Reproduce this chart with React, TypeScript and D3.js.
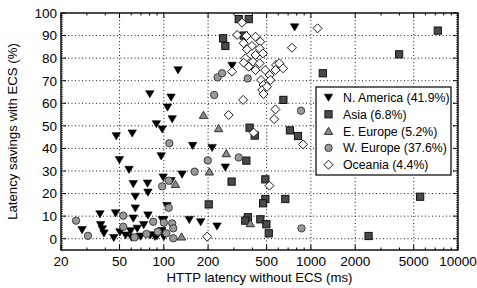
import React from "react";
import * as d3 from "d3";

type P = [number, number];

const northAmerica: P[] = [
  [125, 74.7], [80.3, 64.1], [112, 62.6], [106, 58.2], [114, 53], [89, 50.8], [97.5, 48.5],
  [47.5, 45.5], [61, 46.7], [157, 41.2], [213, 40.3], [49.9, 34.9], [96, 36.6], [58, 30.6],
  [133, 28.5], [99, 27.2], [112, 25.6], [62, 24.3], [77.5, 24.5], [64, 18.7], [78, 20.5],
  [64, 13.5], [36.8, 10.9], [47, 11.3], [78, 10.4], [62, 9], [105, 14.6], [149, 8.4], [178, 7.4],
  [230, 5.5], [27.8, 3.9], [37.2, 6.1], [38.2, 4.2], [39.2, 2.4], [45.7, 0.4], [50.3, 2.9],
  [59.5, 3.4], [60.3, 0.5], [69.5, 1], [73, 6.1], [87, 0.9], [90, 1.2], [97.5, 8.3], [100, 8.3],
  [81, 1.6], [291, 76.7], [775, 93.7], [262, 31.6], [100, 0.9], [97, 3.5], [55, 1.5], [66, 4.5],
];
const asia: P[] = [
  [323, 97.3], [378, 97.3], [253, 88.8], [262, 85.4], [350, 90], [1205, 73.3], [650, 61.5],
  [383, 49.2], [415, 45.7], [720, 48], [817, 45.5], [364, 34.6], [289, 25.3], [490, 26.3],
  [670, 17.6], [490, 17.6], [473, 15.7], [202, 15.2], [373, 9.5], [358, 8], [453, 8.6],
  [498, 6.4], [517, 2.4], [2465, 1.2], [5530, 18.6], [7290, 92.2], [3980, 81.7],
];
const eastEurope: P[] = [
  [186, 54.8], [236, 48.9], [266, 37.8], [204, 29.7], [120, 24.2], [132, 0.9], [387, 6.8],
];
const westEurope: P[] = [
  [25.3, 8], [30.5, 1.3], [53, 10.2], [53, 5.3], [63.3, 0.6], [76.3, 2.1], [84.7, 7.5],
  [91, 3.1], [100, 7.1], [104, 2.4], [114, 6.8], [116, 4.6], [116, 0.2], [108, 13.7],
  [97.5, 23.2], [108, 25.7], [162, 29.7], [199, 34.7], [109, 42.3], [220, 63.7], [232, 71.5],
  [249, 73.3], [372, 71], [323, 36], [863, 4.6], [857, 56.7],
];
const oceania: P[] = [
  [197, 0.9], [276, 54.8], [408, 47], [563, 53], [574, 57.3], [884, 41.8], [522, 23.5],
  [1110, 93.2], [743, 84.6], [340, 95.7], [315, 90.3], [364, 89.8], [420, 89.5], [349, 86.6],
  [453, 87.3], [397, 85.4], [448, 84.3], [368, 83.9], [472, 82.1], [420, 81.4], [359, 79.9],
  [404, 78.4], [448, 77.7], [349, 78], [378, 76.2], [291, 74], [420, 74.7], [489, 74.7],
  [580, 77], [610, 77.7], [574, 74.7], [524, 72.5], [647, 75.5], [458, 70.3], [530, 70.3],
  [476, 68.1], [466, 65.9], [503, 67.3], [476, 64.1], [346, 61.5],
];

const legendLabels = [
  "N. America (41.9%)",
  "Asia (6.8%)",
  "E. Europe (5.2%)",
  "W. Europe (37.6%)",
  "Oceania (4.4%)",
];
const xTickValues = [20, 50, 100, 200, 500, 1000, 2000, 5000, 10000];
const yTickValues = [0, 10, 20, 30, 40, 50, 60, 70, 80, 90, 100];

const W = 477, H = 288;
const L = 61, R = 458, T = 13, B = 250;
const FONT = "'Liberation Sans', Arial, Helvetica, sans-serif";

function Marker({ kind, x, y }: { kind: number; x: number; y: number }) {
  if (kind === 0) {
    const s = 4.2;
    return <path d={`M${x - s},${y - s * 0.8}L${x + s},${y - s * 0.8}L${x},${y + s * 0.9}Z`} fill="#000" stroke="#000" strokeWidth={0.6} />;
  }
  if (kind === 1) {
    const s = 3.6;
    return <rect x={x - s} y={y - s} width={2 * s} height={2 * s} fill="#4a4a4a" stroke="#111" strokeWidth={1} />;
  }
  if (kind === 2) {
    const s = 4.2;
    return <path d={`M${x - s},${y + s * 0.8}L${x + s},${y + s * 0.8}L${x},${y - s * 0.9}Z`} fill="#8a8a8a" stroke="#222" strokeWidth={0.9} />;
  }
  if (kind === 3) {
    return <circle cx={x} cy={y} r={3.7} fill="#999" stroke="#333" strokeWidth={0.9} />;
  }
  const s = 4.5;
  return <path d={`M${x},${y - s}L${x + s},${y}L${x},${y + s}L${x - s},${y}Z`} fill="#fff" stroke="#000" strokeWidth={0.9} />;
}

export default function App() {
  const x = d3.scaleLog().domain([20, 10000]).range([L, R]);
  const y = d3.scaleLinear().domain([-5, 100]).range([B, T]);

  const minorX: number[] = [];
  for (const dec of [10, 100, 1000]) {
    for (let k = 2; k <= 9; k++) {
      const v = k * dec;
      if (v > 20 && v < 10000 && !xTickValues.includes(v)) minorX.push(v);
    }
  }
  const minorY: number[] = d3.range(-5, 100, 1).filter((v) => v % 10 !== 0);

  const series = [northAmerica, asia, eastEurope, westEurope, oceania];

  return (
    <svg width={W} height={H} style={{ position: "absolute", left: 0, top: 0 }} fontFamily={FONT}>
      <rect x={0} y={0} width={W} height={H} fill="#fff" />
      {/* grid */}
      {xTickValues.filter((v) => v > 20 && v < 10000).map((v) => (
        <line key={"gx" + v} x1={x(v)} x2={x(v)} y1={T} y2={B} stroke="#000" strokeWidth={0.9} strokeDasharray="1,2.5" />
      ))}
      {yTickValues.filter((v) => v < 100).map((v) => (
        <line key={"gy" + v} x1={L} x2={R} y1={y(v)} y2={y(v)} stroke="#000" strokeWidth={0.9} strokeDasharray="1,2.5" />
      ))}
      {/* ticks */}
      {xTickValues.map((v) => (
        <g key={"tx" + v}>
          <line x1={x(v)} x2={x(v)} y1={B} y2={B - 5} stroke="#000" />
          <line x1={x(v)} x2={x(v)} y1={T} y2={T + 5} stroke="#000" />
          <text x={x(v)} y={B + 16} textAnchor="middle" fontSize={13.5}>{v}</text>
        </g>
      ))}
      {minorX.map((v) => (
        <g key={"mx" + v}>
          <line x1={x(v)} x2={x(v)} y1={B} y2={B - 2.5} stroke="#000" />
          <line x1={x(v)} x2={x(v)} y1={T} y2={T + 2.5} stroke="#000" />
        </g>
      ))}
      {yTickValues.map((v) => (
        <g key={"ty" + v}>
          <line x1={L} x2={L + 5} y1={y(v)} y2={y(v)} stroke="#000" />
          <line x1={R} x2={R - 5} y1={y(v)} y2={y(v)} stroke="#000" />
          <text x={L - 4} y={y(v) + 4.8} textAnchor="end" fontSize={13.5}>{v}</text>
        </g>
      ))}
      {minorY.map((v) => (
        <g key={"my" + v}>
          <line x1={L} x2={L + 2} y1={y(v)} y2={y(v)} stroke="#000" strokeWidth={0.7} />
          <line x1={R} x2={R - 2} y1={y(v)} y2={y(v)} stroke="#000" strokeWidth={0.7} />
        </g>
      ))}
      {/* data */}
      {series.map((pts, si) => (
        <g key={"s" + si}>
          {pts.map((p, i) => (
            <Marker key={i} kind={si} x={x(p[0])} y={y(p[1])} />
          ))}
        </g>
      ))}
      {/* frame */}
      <rect x={L} y={T} width={R - L} height={B - T} fill="none" stroke="#000" strokeWidth={1.4} />
      {/* legend */}
      <g>
        <rect x={316} y={87} width={135} height={88} fill="#fff" stroke="#000" strokeWidth={1.2} />
        {legendLabels.map((lab, i) => {
          const cy = 97.5 + i * 16.8;
          return (
            <g key={lab}>
              <Marker kind={i} x={328.5} y={cy} />
              <text x={343} y={cy + 4.5} fontSize={12.3}>{lab}</text>
            </g>
          );
        })}
      </g>
      {/* axis titles */}
      <text x={(L + R) / 2} y={282} textAnchor="middle" fontSize={13.2}>HTTP latency without ECS (ms)</text>
      <text transform={`translate(${17},${(T + B) / 2}) rotate(-90)`} textAnchor="middle" fontSize={13.2}>Latency savings with ECS (%)</text>
    </svg>
  );
}
